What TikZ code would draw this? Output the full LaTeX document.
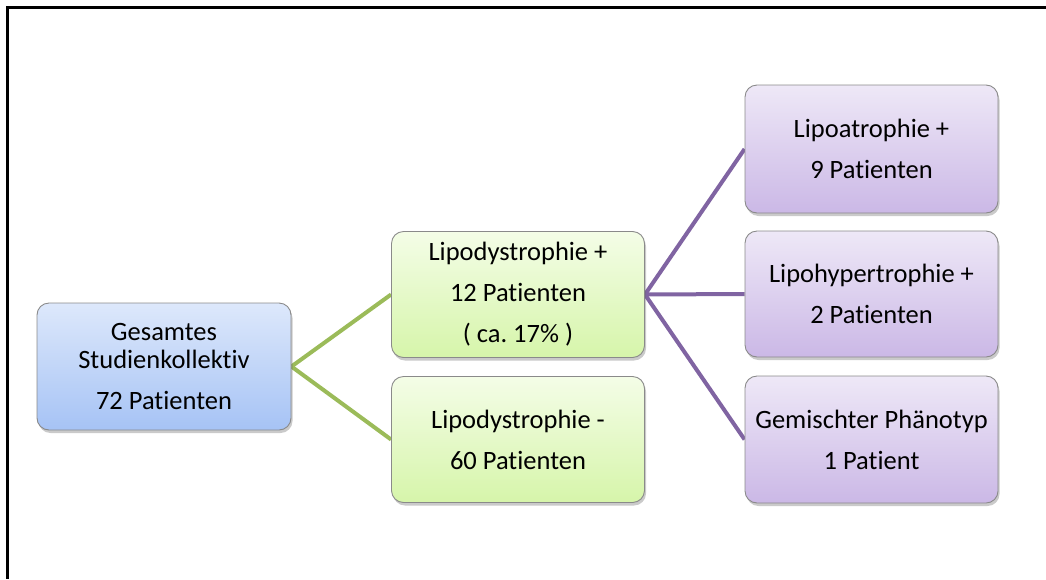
\documentclass[tikz,border=0pt]{standalone}
\usepackage{fontspec}
\setmainfont{Carlito}[Ligatures={NoCommon}]
\usetikzlibrary{shadows,backgrounds}
\frenchspacing
\definecolor{blueTop}{HTML}{DDE8FB}
\definecolor{blueBot}{HTML}{A6C3F5}
\definecolor{greenTop}{HTML}{F4FDE7}
\definecolor{greenBot}{HTML}{D6F5AA}
\definecolor{purpleTop}{HTML}{EEE8F7}
\definecolor{purpleBot}{HTML}{CBB8E6}
\definecolor{boxborder}{HTML}{8A8A8A}
\definecolor{greenLine}{HTML}{9BBB59}
\definecolor{purpleLine}{HTML}{8064A2}
\begin{document}
\begin{tikzpicture}[x=1pt,y=-1pt,
  box/.style={rounded corners=12pt, draw=boxborder, line width=0.9pt,
    minimum width=253pt, minimum height=126pt, align=center, inner sep=0pt,
    font=\fontsize{26.5pt}{28.3pt}\selectfont\frenchspacing,
    drop shadow={shadow xshift=1.5pt, shadow yshift=-3pt, opacity=0.35, fill=black!60}},
  bluebox/.style={box, top color=blueTop, bottom color=blueBot},
  greenbox/.style={box, top color=greenTop, bottom color=greenBot},
  purplebox/.style={box, top color=purpleTop, bottom color=purpleBot},
  greenconn/.style={draw=greenLine, line width=4pt},
  purpleconn/.style={draw=purpleLine, line width=4pt},
  frameline/.style={draw=black, line width=2.5pt}
]
\useasboundingbox (0,0) rectangle (1046,579);
\draw[frameline] (1046,7.5) -- (7.7,7.5) -- (7.7,579);

\node[bluebox, minimum width=254pt, minimum height=127pt] (root) at (164,366.5)
  {Gesamtes\\Studienkollektiv\\[12.4pt]72 Patienten};
\node[greenbox] (lp) at (518,294.5)
  {Lipodystrophie +\\[12.7pt]12 Patienten\\[12.7pt]( ca. 17\% )};
\node[greenbox] (lm) at (518,439.5)
  {Lipodystrophie -\\[12.7pt]60 Patienten};
\node[purplebox, minimum height=128pt] (pa) at (871.5,149)
  {Lipoatrophie +\\[12.7pt]9 Patienten};
\node[purplebox] (ph) at (871.5,294)
  {Lipohypertrophie +\\[12.7pt]2 Patienten};
\node[purplebox, minimum height=127pt] (pg) at (871.5,439.5)
  {Gemischter Phänotyp\\[12.7pt]1 Patient};

\begin{scope}[on background layer]
\draw[greenconn] (root.east) -- (lp.west);
\draw[greenconn] (root.east) -- (lm.west);
\draw[purpleconn] (lp.east) -- (pa.west);
\draw[purpleconn] (lp.east) -- (ph.west);
\draw[purpleconn] (lp.east) -- (pg.west);
\end{scope}
\end{tikzpicture}
\end{document}
